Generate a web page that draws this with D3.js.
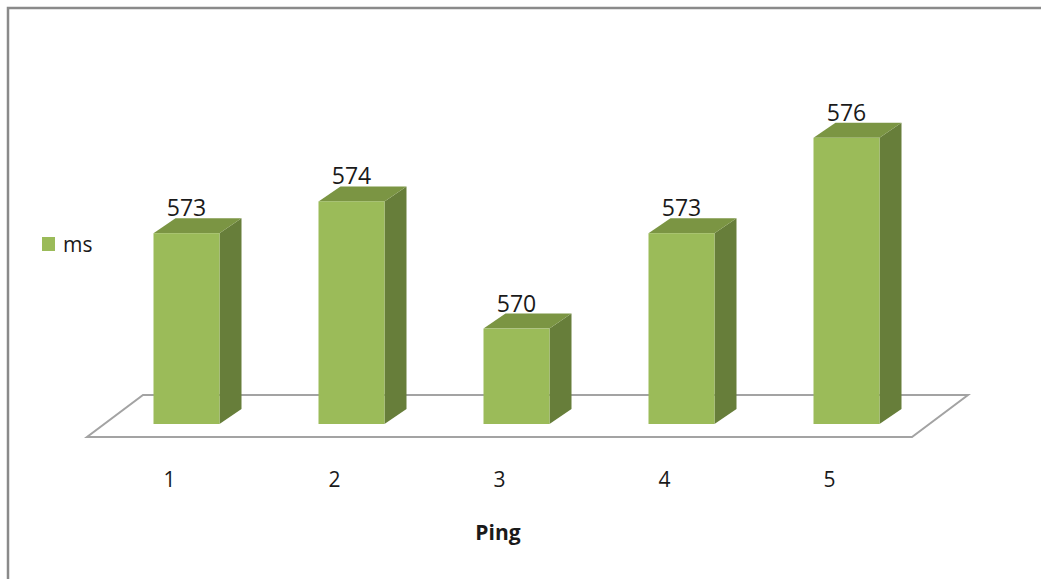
<!DOCTYPE html>
<html>
<head>
<meta charset="utf-8">
<script src="https://cdn.jsdelivr.net/npm/d3@7"></script>
<style>
  html, body { margin: 0; padding: 0; background: #fff; }
  svg { display: block; }
  text { font-family: "Open Sans", "Noto Sans", sans-serif; fill: #1a1a1a; }
</style>
</head>
<body>
<svg id="chart" width="1041" height="579"></svg>
<script>
// Ping round-trip times (ms)
const categories = ["1", "2", "3", "4", "5"];
const values = [573, 574, 570, 573, 576];
const seriesName = "ms";
const axisTitle = "Ping";
const valueDomain = [567, 577];

const W = 1041, H = 579;
const svg = d3.select("#chart");

// chart frame (extends past right/bottom edges)
svg.append("rect")
  .attr("x", 8).attr("y", 8)
  .attr("width", W + 10).attr("height", H + 10)
  .attr("fill", "#fff")
  .attr("stroke", "#8a8a8a").attr("stroke-width", 2.5);

// 3D floor geometry
const floorFront = 437;           // y of floor front edge
const floorDepth = { dx: 56, dy: -42 };
const barShift = { dx: 17, dy: -13 };   // bar front face sits inside the floor
const barDepth = { dx: 22, dy: -15 };
const barWidth = 66;

const x = d3.scaleBand().domain(categories).range([87, 912]).padding(0);
const baseY = floorFront + barShift.dy;
const y = d3.scaleLinear().domain(valueDomain).range([baseY, baseY - 318]);

// floor
const fl = [
  [87, floorFront],
  [912, floorFront],
  [912 + floorDepth.dx, floorFront + floorDepth.dy],
  [87 + floorDepth.dx, floorFront + floorDepth.dy]
];
svg.append("polygon")
  .attr("points", fl.map(p => p.join(",")).join(" "))
  .attr("fill", "#fff")
  .attr("stroke", "#a3a3a3").attr("stroke-width", 2);

const data = categories.map((c, i) => ({ c, v: values[i] }));

const bars = svg.append("g").selectAll("g").data(data).join("g");

function frontLeft(d) { return x(d.c) + x.bandwidth() / 2 + barShift.dx - barWidth / 2; }

// side face
bars.append("polygon")
  .attr("fill", "#677e3a")
  .attr("points", d => {
    const x1 = frontLeft(d) + barWidth, yt = y(d.v), yb = y(valueDomain[0]);
    return [[x1, yt], [x1 + barDepth.dx, yt + barDepth.dy],
            [x1 + barDepth.dx, yb + barDepth.dy], [x1, yb]].map(p => p.join(",")).join(" ");
  });

// top face
bars.append("polygon")
  .attr("fill", "#7b9543")
  .attr("points", d => {
    const x0 = frontLeft(d), x1 = x0 + barWidth, yt = y(d.v);
    return [[x0, yt], [x1, yt], [x1 + barDepth.dx, yt + barDepth.dy],
            [x0 + barDepth.dx, yt + barDepth.dy]].map(p => p.join(",")).join(" ");
  });

// front face
bars.append("rect")
  .attr("fill", "#9bbb59")
  .attr("x", d => frontLeft(d))
  .attr("y", d => y(d.v))
  .attr("width", barWidth)
  .attr("height", d => y(valueDomain[0]) - y(d.v));

// value labels
bars.append("text")
  .attr("x", d => frontLeft(d) + barWidth / 2)
  .attr("y", d => y(d.v) + barDepth.dy - 2)
  .attr("text-anchor", "middle")
  .attr("font-size", 23)
  .text(d => d.v);

// category axis labels along floor front edge
const axis = d3.axisBottom(x).tickSize(0).tickPadding(0);
const gAxis = svg.append("g").attr("transform", `translate(0,${floorFront})`).call(axis);
gAxis.select(".domain").remove();
gAxis.selectAll("text")
  .attr("y", 50)
  .attr("dy", 0)
  .attr("font-size", 21)
  .attr("font-family", "Open Sans, Noto Sans, sans-serif")
  .attr("fill", "#1a1a1a");

// axis title
svg.append("text")
  .attr("x", 498).attr("y", 540)
  .attr("text-anchor", "middle")
  .attr("font-size", 21)
  .attr("font-weight", "bold")
  .text(axisTitle);

// legend
svg.append("rect")
  .attr("x", 42).attr("y", 237)
  .attr("width", 13).attr("height", 14)
  .attr("fill", "#9bbb59");
svg.append("text")
  .attr("x", 63).attr("y", 252)
  .attr("font-size", 21)
  .text(seriesName);
</script>
</body>
</html>
